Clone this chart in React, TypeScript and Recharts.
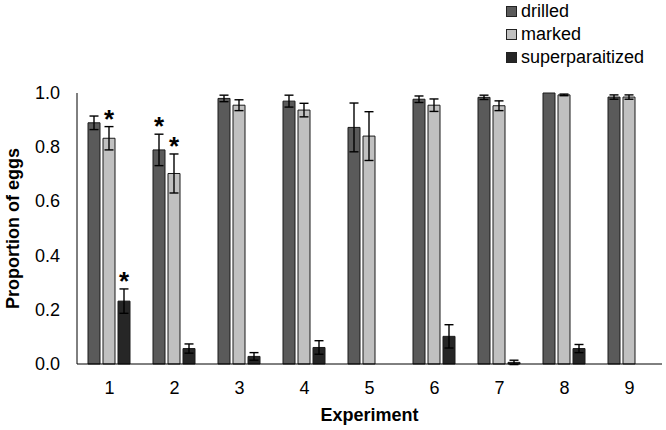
import React from 'react';
import { BarChart, Bar, XAxis, YAxis, Label, Rectangle } from 'recharts';

const experiments = ['1', '2', '3', '4', '5', '6', '7', '8', '9'];

const drilled = [0.89, 0.79, 0.98, 0.97, 0.873, 0.977, 0.984, 1.0, 0.985];
const drilledErr = [0.025, 0.058, 0.012, 0.022, 0.09, 0.012, 0.008, 0, 0.008];
const drilledStar = [false, true, false, false, false, false, false, false, false];

const marked = [0.833, 0.703, 0.955, 0.937, 0.841, 0.955, 0.953, 0.993, 0.985];
const markedErr = [0.043, 0.072, 0.02, 0.025, 0.09, 0.023, 0.018, 0.003, 0.008];
const markedStar = [true, true, false, false, false, false, false, false, false];

const superp = [0.232, 0.057, 0.028, 0.061, 0, 0.102, 0.006, 0.057, 0];
const superpErr = [0.045, 0.017, 0.014, 0.025, 0, 0.043, 0.008, 0.015, 0];
const superpStar = [true, false, false, false, false, false, false, false, false];

const yTicks = [0, 0.2, 0.4, 0.6, 0.8, 1.0];

const data = experiments.map((name, i) => ({
    name,
    drilled: drilled[i],
    drilledErr: drilledErr[i],
    drilledStar: drilledStar[i],
    marked: marked[i],
    markedErr: markedErr[i],
    markedStar: markedStar[i],
    superp: superp[i],
    superpErr: superpErr[i],
    superpStar: superpStar[i],
}));

const FONT = 'Liberation Sans, Arial, sans-serif';

const series = [
    { key: 'drilled', label: 'drilled', fill: '#5a5a5a' },
    { key: 'marked', label: 'marked', fill: '#c0c0c0' },
    { key: 'superp', label: 'superparaitized', fill: '#262626' },
];

// bar + error bar + optional star; px per unit comes from the bar itself
const barWithErr = (key: string) => (props: any) => {
    const { x, y, width, height, payload } = props;
    const v = payload[key];
    const e = payload[key + 'Err'];
    const star = payload[key + 'Star'];
    if (!v) return <g />;
    const px = height / v;
    const cx = x + width / 2;
    const top = y - e * px;
    const bot = y + e * px;
    return (
        <g>
            <Rectangle x={x} y={y} width={width} height={height} fill={props.fill} stroke="#1a1a1a" strokeWidth={1} />
            {e > 0 && (
                <g stroke="#000" strokeWidth={1.4}>
                    <line x1={cx} x2={cx} y1={top} y2={bot} />
                    <line x1={cx - 4.5} x2={cx + 4.5} y1={top} y2={top} />
                    <line x1={cx - 4.5} x2={cx + 4.5} y1={bot} y2={bot} />
                </g>
            )}
            {star && (
                <text x={cx} y={top + 1} textAnchor="middle" fontFamily={FONT} fontSize={26} fontWeight="bold" fill="#000">
                    *
                </text>
            )}
        </g>
    );
};

const XTick = (props: any) => {
    const { x, y, payload } = props;
    return (
        <text x={x} y={y + 22} textAnchor="middle" fontFamily={FONT} fontSize={18} fill="#000">
            {payload.value}
        </text>
    );
};

const YTick = (props: any) => {
    const { x, y, payload } = props;
    return (
        <text x={x - 9} y={y + 6} textAnchor="end" fontFamily={FONT} fontSize={18} fill="#000">
            {Number(payload.value).toFixed(1)}
        </text>
    );
};

export default function App() {
    return (
        <div style={{ position: 'absolute', left: 0, top: 0, width: 666, height: 430, background: '#fff' }}>
            <BarChart
                width={666}
                height={430}
                data={data}
                margin={{ top: 93, right: 4, bottom: 30, left: 0 }}
                barCategoryGap={11}
                barGap={3}
            >
                <XAxis
                    dataKey="name"
                    tickLine={false}
                    axisLine={{ stroke: '#000' }}
                    tick={<XTick />}
                    height={36}
                >
                    <Label
                        content={(p: any) => {
                            const vb = p.viewBox;
                            return (
                                <text x={vb.x + vb.width / 2} y={421} textAnchor="middle" fontFamily={FONT} fontSize={18} fontWeight="bold" fill="#000">
                                    Experiment
                                </text>
                            );
                        }}
                    />
                </XAxis>
                <YAxis
                    domain={[0, 1]}
                    ticks={yTicks}
                    tickLine={false}
                    axisLine={{ stroke: '#000' }}
                    tick={<YTick />}
                    width={77}
                >
                    <Label
                        content={(p: any) => {
                            const vb = p.viewBox;
                            const cy = vb.y + vb.height / 2;
                            return (
                                <text x={19} y={cy} transform={`rotate(-90, 19, ${cy})`} textAnchor="middle" fontFamily={FONT} fontSize={18} fontWeight="bold" fill="#000">
                                    Proportion of eggs
                                </text>
                            );
                        }}
                    />
                </YAxis>
                <Bar dataKey="drilled" fill="#5a5a5a" isAnimationActive={false} shape={barWithErr('drilled')} />
                <Bar dataKey="marked" fill="#c0c0c0" isAnimationActive={false} shape={barWithErr('marked')} />
                <Bar dataKey="superp" fill="#262626" isAnimationActive={false} shape={barWithErr('superp')} />
            </BarChart>
            <div style={{ position: 'absolute', left: 506, top: 0, fontFamily: FONT, fontSize: 18, color: '#000' }}>
                {series.map((s) => (
                    <div key={s.key} style={{ display: 'flex', alignItems: 'center', height: 23 }}>
                        <span style={{ width: 9, height: 9, background: s.fill, border: '1px solid #222', marginRight: 4, display: 'inline-block' }} />
                        <span>{s.label}</span>
                    </div>
                ))}
            </div>
        </div>
    );
}
